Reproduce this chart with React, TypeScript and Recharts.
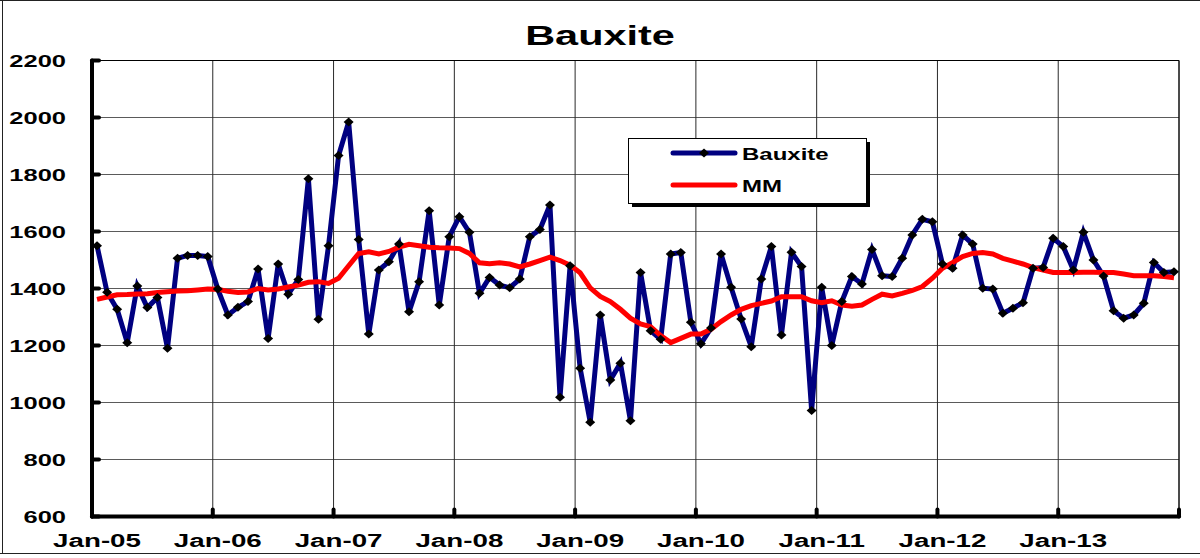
import { LineChart, Line, XAxis, YAxis, CartesianGrid, ReferenceLine, Legend } from 'recharts'

// monthly values, Jan-05 .. Dec-13
const bauxite = [
  1550, 1387, 1327, 1210, 1409, 1333, 1368, 1190, 1506, 1516, 1516, 1512,
  1398, 1307, 1334, 1354, 1468, 1225, 1486, 1380, 1432, 1785, 1292, 1550,
  1867, 1984, 1572, 1240, 1465, 1494, 1556, 1318, 1424, 1673, 1342, 1582,
  1652, 1597, 1383, 1439, 1412, 1403, 1433, 1582, 1607, 1693, 1018, 1480,
  1120, 931, 1307, 1079, 1138, 936, 1456, 1252, 1222, 1521, 1526, 1282,
  1206, 1261, 1521, 1404, 1293, 1196, 1433, 1547, 1237, 1527, 1477, 972,
  1404, 1200, 1354, 1442, 1416, 1537, 1445, 1442, 1506, 1588, 1643, 1634,
  1486, 1471, 1588, 1556, 1401, 1398, 1313, 1331, 1350, 1471, 1474, 1576,
  1547, 1465, 1597, 1500, 1444, 1322, 1296, 1307, 1348, 1491, 1456, 1459,
]

const mm = [
  1362, 1370, 1378, 1379, 1381, 1382, 1386, 1389, 1391, 1392, 1395, 1398,
  1397, 1390, 1386, 1388, 1400, 1395, 1398, 1405, 1412, 1422, 1424, 1418,
  1436, 1480, 1523, 1529, 1521, 1530, 1545, 1555, 1550, 1545, 1543, 1542,
  1540, 1523, 1490, 1487, 1490, 1486, 1476, 1486, 1498, 1510, 1498, 1482,
  1455, 1402, 1372, 1354, 1327, 1296, 1276, 1266, 1235, 1210, 1225, 1240,
  1240, 1257, 1284, 1307, 1327, 1340, 1348, 1356, 1371, 1371, 1371, 1357,
  1350, 1357, 1342, 1338, 1342, 1362, 1380, 1374, 1383, 1393, 1407, 1436,
  1471, 1491, 1512, 1523, 1526, 1521, 1506, 1496, 1486, 1473, 1465, 1456,
  1456, 1456, 1457, 1457, 1456, 1456, 1451, 1445, 1445, 1445, 1442, 1438,
]

const yearLabels = ['Jan-05', 'Jan-06', 'Jan-07', 'Jan-08', 'Jan-09', 'Jan-10', 'Jan-11', 'Jan-12', 'Jan-13']
const yTicks = [600, 800, 1000, 1200, 1400, 1600, 1800, 2000, 2200]

const W = 1200
const H = 558
const PLOT_LEFT = 92
const PLOT_RIGHT = 1179
const PLOT_TOP = 60.5
const PLOT_BOTTOM = 516.5
const MONTHS = bauxite.length
const HALF_MONTH = (PLOT_RIGHT - PLOT_LEFT) / MONTHS / 2
const FONT = '"Liberation Sans", Arial, Helvetica, sans-serif'
// the original picture is stretched sideways, so glyphs are too
const STRETCH = 1.5

const data = bauxite.map((v, i) => ({ t: i + 0.5, bauxite: v, mm: mm[i] }))
const xTicks = [...yearLabels.map((_, i) => i * 12), MONTHS]

function WideText({ x, y, size, anchor = 'start', children }: any) {
  return (
    <text
      transform={`translate(${x},${y}) scale(${STRETCH},1)`}
      textAnchor={anchor}
      fontFamily={FONT}
      fontWeight="bold"
      fontSize={size}
      fill="#000"
    >
      {children}
    </text>
  )
}

function YTick({ y, payload }: any) {
  return (
    <g>
      <line x1={PLOT_LEFT} x2={PLOT_LEFT + 7} y1={y} y2={y} stroke="#000" strokeWidth={4} strokeLinecap="round" />
      <WideText x={66} y={y + 6} size={17} anchor="end">
        {payload.value}
      </WideText>
    </g>
  )
}

function XTick({ x, payload }: any) {
  const label = yearLabels[payload.value / 12]
  return (
    <g>
      <line x1={x} x2={x} y1={PLOT_BOTTOM} y2={PLOT_BOTTOM - 7} stroke="#000" strokeWidth={4} strokeLinecap="round" />
      {label && (
        <WideText x={x + HALF_MONTH} y={547} size={18.5} anchor="middle">
          {label}
        </WideText>
      )}
    </g>
  )
}

function Diamond({ cx, cy, index }: any) {
  return <polygon key={index} points={`${cx},${cy - 4.5} ${cx + 5},${cy} ${cx},${cy + 4.5} ${cx - 5},${cy}`} fill="#000" />
}

function LegendBox({ payload }: any) {
  const items = payload ?? []
  return (
    <svg width={246} height={72} style={{ display: 'block' }}>
      <rect x={4} y={4} width={238} height={65} fill="#000" />
      <rect x={0.5} y={0.5} width={238} height={65} fill="#fff" stroke="#000" />
      {items.map((p: any, i: number) => {
        const y = 15 + i * 32
        return (
          <g key={p.value}>
            <line x1={45} x2={107} y1={y} y2={y} stroke={p.color} strokeWidth={5} strokeLinecap="round" />
            {p.value === 'Bauxite' && <Diamond cx={76} cy={y} index={0} />}
            <WideText x={114} y={y + 6.5} size={16}>
              {p.value}
            </WideText>
          </g>
        )
      })}
    </svg>
  )
}

export default function App() {
  return (
    <div style={{ position: 'absolute', left: 0, top: 0, width: W, height: H, background: '#fff' }}>
      <LineChart
        width={W}
        height={H}
        data={data}
        margin={{ top: PLOT_TOP, right: W - PLOT_RIGHT, bottom: 0, left: 0 }}
      >
        <CartesianGrid vertical={false} stroke="#5a5a5a" strokeWidth={1} />
        <CartesianGrid horizontal={false} stroke="#2a2a2a" strokeWidth={1} />
        <XAxis
          type="number"
          dataKey="t"
          domain={[0, MONTHS]}
          ticks={xTicks}
          interval={0}
          height={H - PLOT_BOTTOM}
          axisLine={{ stroke: '#000', strokeWidth: 4, strokeLinecap: 'round' }}
          tickLine={false}
          tick={<XTick />}
        />
        <YAxis
          type="number"
          domain={[600, 2200]}
          ticks={yTicks}
          interval={0}
          width={PLOT_LEFT}
          axisLine={{ stroke: '#000', strokeWidth: 4, strokeLinecap: 'round' }}
          tickLine={false}
          tick={<YTick />}
        />
        <ReferenceLine y={2200} stroke="#000" strokeWidth={1} />
        <ReferenceLine x={MONTHS} stroke="#000" strokeWidth={1} />
        <Line
          dataKey="bauxite"
          name="Bauxite"
          stroke="#000080"
          strokeWidth={5}
          dot={<Diamond />}
          activeDot={false}
          isAnimationActive={false}
        />
        <Line
          dataKey="mm"
          name="MM"
          stroke="#FF0000"
          strokeWidth={5}
          dot={false}
          activeDot={false}
          isAnimationActive={false}
        />
        <Legend
          layout="horizontal"
          verticalAlign="middle"
          align="center"
          wrapperStyle={{ position: 'absolute', left: 628, top: 138, width: 246, height: 72 }}
          content={(props: any) => <LegendBox payload={props.payload} />}
        />
      </LineChart>
      <svg width={W} height={H} style={{ position: 'absolute', left: 0, top: 0, pointerEvents: 'none' }}>
        <line x1={0} x2={W} y1={0.5} y2={0.5} stroke="#222" />
        <line x1={2.5} x2={2.5} y1={0} y2={554} stroke="#222" />
        <line x1={0} x2={W} y1={553.5} y2={553.5} stroke="#222" />
        <text
          transform={`translate(600,45) scale(1.48,1)`}
          textAnchor="middle"
          fontFamily={FONT}
          fontWeight="bold"
          fontSize={28}
        >
          Bauxite
        </text>
      </svg>
    </div>
  )
}
